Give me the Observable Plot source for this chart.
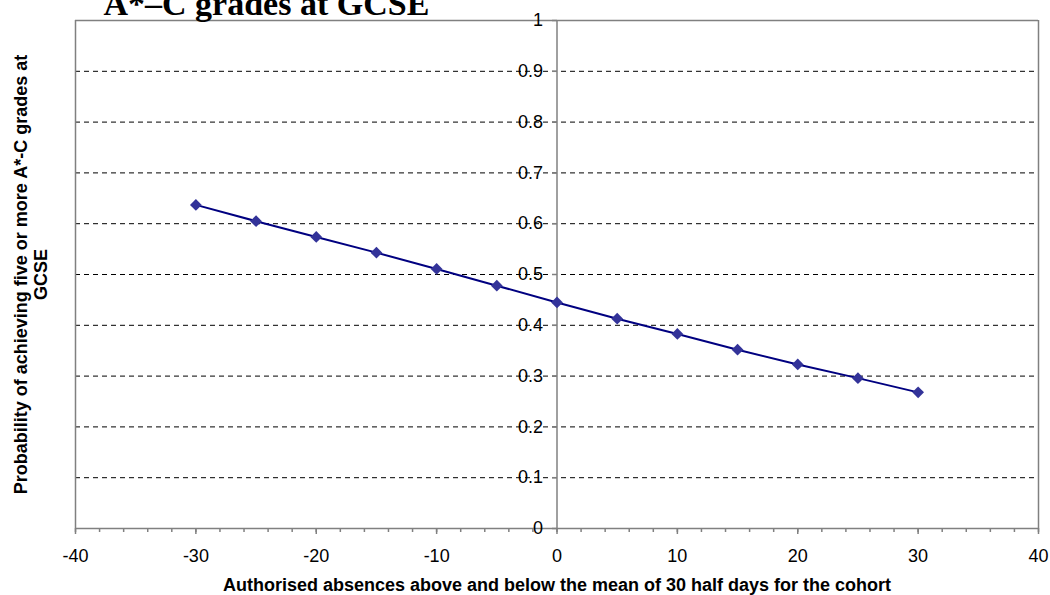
<!DOCTYPE html>
<html>
<head>
<meta charset="utf-8">
<script src="https://cdn.jsdelivr.net/npm/d3@7"></script>
<script src="https://cdn.jsdelivr.net/npm/@observablehq/plot@0.6"></script>
<style>
  html, body { margin: 0; padding: 0; background: #fff; }
  #chart { width: 1050px; height: 595px; overflow: hidden; }
</style>
</head>
<body>
<div id="chart"></div>
<script>
// Data
const absences = [-30, -25, -20, -15, -10, -5, 0, 5, 10, 15, 20, 25, 30];
const probability = [0.637, 0.605, 0.574, 0.543, 0.511, 0.478, 0.445, 0.413, 0.383, 0.352, 0.323, 0.296, 0.268];

const xTicks = [-40, -30, -20, -10, 0, 10, 20, 30, 40];
const xMinorTicks = d3.range(-40, 41, 2);
const yTicks = [0, 0.1, 0.2, 0.3, 0.4, 0.5, 0.6, 0.7, 0.8, 0.9, 1];
const yGrid = [0.1, 0.2, 0.3, 0.4, 0.5, 0.6, 0.7, 0.8, 0.9];

const titleText = "A*–C grades at GCSE";
const xLabel = "Authorised absences above and below the mean of 30 half days for the cohort";
const yLabel = "Probability of achieving five or more A*-C grades at\nGCSE";

const data = absences.map((x, i) => ({x, y: probability[i]}));

const gray = "#808080";
const sans = "Liberation Sans, Arial, sans-serif";

// left-pointing tick symbol for the y axis drawn at x = 0
const leftTick = {
  draw(context) {
    context.moveTo(-5, 0);
    context.lineTo(0, 0);
  }
};

const chart = Plot.plot({
  width: 1050,
  height: 595,
  marginLeft: 75,
  marginRight: 12,
  marginTop: 20,
  marginBottom: 67,
  style: {fontFamily: sans, fontSize: "18px", color: "#000", background: "#fff", overflow: "visible"},
  x: {domain: [-40, 40], axis: null},
  y: {domain: [0, 1], axis: null},
  marks: [
    // dashed gridlines
    Plot.ruleY(yGrid, {stroke: "#000", strokeWidth: 1, strokeDasharray: "5,4"}),
    // plot area frame
    Plot.ruleY([1], {stroke: gray, strokeWidth: 1.5}),
    Plot.ruleX([-40, 40], {stroke: gray, strokeWidth: 1.5}),
    Plot.ruleY([0], {stroke: gray, strokeWidth: 1.5}),
    // vertical axis through x = 0
    Plot.ruleX([0], {stroke: gray, strokeWidth: 1.5}),
    Plot.dot(yTicks, {x: () => 0, y: d => d, symbol: leftTick, stroke: gray, strokeWidth: 1.5, fill: "none", r: 3}),
    Plot.text(yTicks, {x: () => 0, y: d => d, text: d => String(d), dx: -14, textAnchor: "end", fontSize: 18, fill: "#000"}),
    // x axis ticks and labels
    Plot.axisX({ticks: xMinorTicks, tickSize: 4, text: null, label: null, stroke: gray, strokeWidth: 1.5}),
    Plot.axisX({ticks: xTicks, tickSize: 6, tickPadding: 15, tickFormat: d => String(d), label: null, stroke: gray, strokeWidth: 1.5, fontSize: 18}),
    // data
    Plot.line(data, {x: "x", y: "y", stroke: "#000080", strokeWidth: 2}),
    Plot.dot(data, {x: "x", y: "y", symbol: "diamond2", r: 5.3, fill: "#333399", stroke: "none"}),
    // axis titles
    Plot.text([xLabel], {frameAnchor: "bottom", dy: 62, lineAnchor: "bottom", text: d => d, fontSize: 18, fontWeight: "bold", fill: "#000"}),
    Plot.text([yLabel], {frameAnchor: "left", dx: -45, rotate: -90, textAnchor: "middle", lineAnchor: "middle", lineHeight: 1.1, text: d => d, fontSize: 18, fontWeight: "bold", fill: "#000"}),
    // clipped title
    Plot.text([titleText], {frameAnchor: "top-left", dx: 28, dy: -6, lineAnchor: "bottom", textAnchor: "start", text: d => d, fontFamily: "Liberation Serif, Times New Roman, serif", fontSize: 34, fontWeight: "bold", fill: "#000"})
  ]
});

document.getElementById("chart").appendChild(chart);
</script>
</body>
</html>
